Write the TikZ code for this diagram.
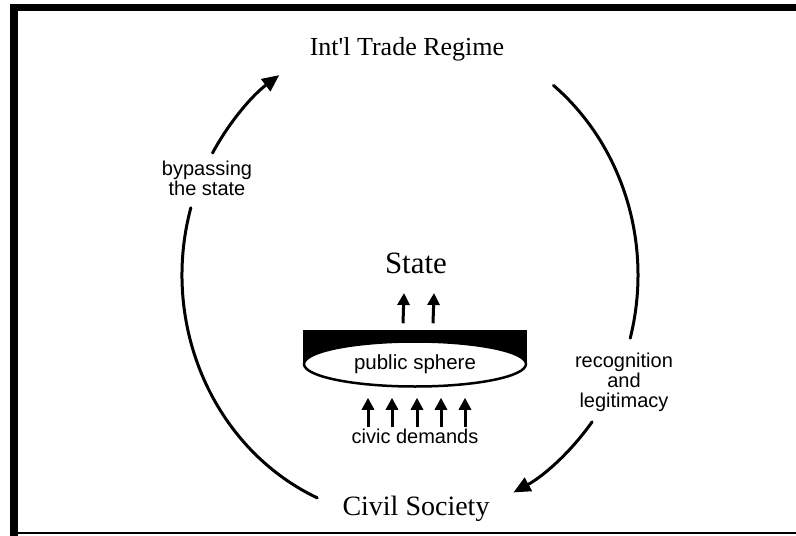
\documentclass[tikz,border=0pt]{standalone}
\usepackage{fontspec}
\setmainfont{Liberation Serif}
\setsansfont{Liberation Sans}
\usepackage{tikz}
\usetikzlibrary{arrows.meta,positioning,calc,shapes.geometric,backgrounds}

\begin{document}
\begin{tikzpicture}[x=1pt,y=-1pt,
 title/.style={font=\fontsize{26}{30}\selectfont,inner sep=0pt,anchor=base},
 note/.style={font=\sffamily\fontsize{20}{20}\selectfont,align=center,inner sep=1pt},
 cycle/.style={line width=3pt,line cap=round},
 cycletip/.style={cycle,-{Triangle[length=17pt,width=15pt]}},
 push/.style={line width=3pt,-{Triangle[length=12pt,width=12pt]}}]
\useasboundingbox (0,0) rectangle (796,536);
% frame
\fill (10,4) rectangle (796,11);
\fill (10,4) rectangle (18,536);
\fill (18,532) rectangle (796,534);
% labels
\node[title] (trade) at (407,55) {Int\textquotesingle l Trade Regime};
\node[title,font=\fontsize{31}{34}\selectfont] (state) at (416,273) {State};
\node[title,font=\fontsize{28}{32}\selectfont] (civil) at (416,515) {Civil Society};
\node[ellipse,draw,fill=white,line width=2.5pt,minimum width=222pt,minimum height=45pt,
 inner sep=0pt,font=\sffamily\fontsize{20.5}{20}\selectfont] (sphere) at (415,364) {public sphere};
\node[note,anchor=base] (civic) at (415,443) {civic demands};
\node[note] (bypass) at (207,178) {bypassing\\the state};
\node[note] (recog) at (624,382) {recognition\\and\\legitimacy};
\begin{scope}[on background layer]
\fill[white] (0,0) rectangle (796,536);
\fill ([yshift=10pt]sphere.north -| sphere.west) rectangle (sphere.east);
\end{scope}
% pressure arrows
\foreach \dx in {-12,18}
 \draw[push] ($(sphere.north)+(\dx,-17)$) -- ($(state.base)+(\dx,20)$);
\foreach \dx in {-47,-23,2,26,50}
 \draw[push] ($(civic.base)+(\dx,-16)$) -- ($(sphere.south)+(\dx,10)$);
% the big cycle
\coordinate (ring) at (410,275);
\path (ring) ++(114:228 and 244) coordinate (left1)
      (ring) ++(210:228 and 244) coordinate (left2)
      (ring) ++(309:228 and 244) coordinate (right1)
      (ring) ++(37:228 and 244) coordinate (right2);
\draw[cycle] (left1) arc[start angle=114,end angle=196,x radius=228,y radius=244];
\draw[cycletip] (left2) arc[start angle=210,end angle=235,x radius=228,y radius=244];
\draw[cycle] (right1) arc[start angle=309,end angle=375,x radius=228,y radius=244];
\draw[cycletip] (right2) arc[start angle=37,end angle=63,x radius=228,y radius=244];
\end{tikzpicture}
\end{document}
